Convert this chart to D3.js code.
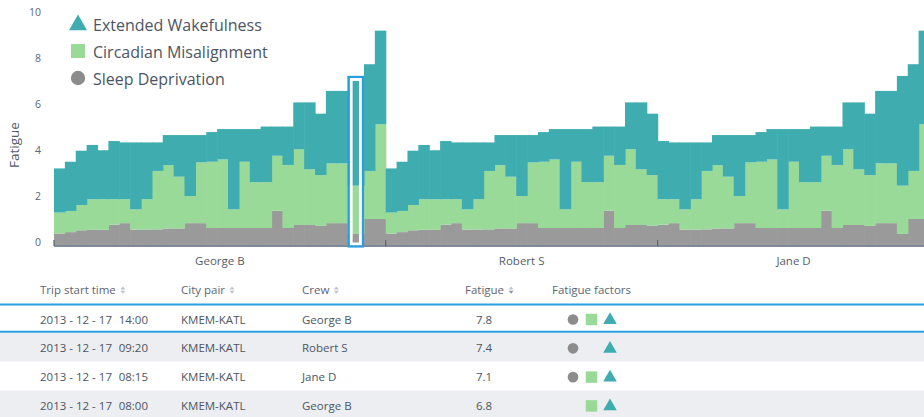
<!DOCTYPE html>
<html>
<head>
<meta charset="utf-8">
<script src="https://d3js.org/d3.v7.min.js"></script>
<style>
body{margin:0;background:#fff;font-family:'Open Sans',sans-serif;}
svg{display:block;}
</style>
</head>
<body>
<div id="plot"></div>
<script>
// chart data
var groups = ["George B","Robert S","Jane D"];
var factorKeys = ["sleep","circ","wake"];
var legendLabels = ["Extended Wakefulness","Circadian Misalignment","Sleep Deprivation"];
var yTicks = [0,2,4,6,8,10];

var georgeSleep = [0.50,0.56,0.64,0.66,0.66,0.88,0.95,0.67,0.67,0.68,0.72,0.72,0.95,0.95,0.74,0.74,0.74,0.74,0.74,0.74,1.49,0.74,0.87,0.87,0.83,0.95,0.95,0.48,1.13,1.13];
var georgeCirc  = [0.91,0.92,1.10,1.33,1.33,1.11,1.04,0.88,1.32,2.54,2.75,2.25,1.18,2.64,2.88,2.98,0.81,2.88,1.99,1.99,2.39,2.74,3.29,2.42,2.21,2.60,2.60,2.10,2.09,4.12];
var georgeWake  = [1.92,2.14,2.36,2.36,2.13,2.53,2.47,2.91,2.47,1.24,1.31,1.81,2.65,1.19,1.29,1.32,3.49,1.42,2.31,2.42,1.27,1.67,2.04,2.91,2.67,3.15,3.15,4.77,4.64,4.07];

var robertSleep = [0.50,0.56,0.64,0.66,0.66,0.88,0.95,0.67,0.67,0.68,0.72,0.72,0.95,0.95,0.74,0.74,0.74,0.74,0.74,0.74,1.49,0.74,0.87,0.87,0.83];
var robertCirc  = [0.91,0.92,1.10,1.33,1.33,1.11,1.04,0.88,1.32,2.54,2.75,2.25,1.18,2.64,2.88,2.98,0.81,2.88,1.99,1.99,2.39,2.74,3.29,2.42,2.21];
var robertWake  = [1.92,2.14,2.36,2.36,2.13,2.53,2.47,2.91,2.47,1.24,1.31,1.81,2.65,1.19,1.29,1.32,3.49,1.42,2.31,2.42,1.27,1.67,2.04,2.91,2.67];

var janeSleep = [0.88,0.95,0.67,0.67,0.68,0.72,0.72,0.95,0.95,0.74,0.74,0.74,0.74,0.74,0.74,1.49,0.74,0.87,0.87,0.83,0.95,0.95,0.48,1.13,1.13];
var janeCirc  = [1.11,1.04,0.88,1.32,2.54,2.75,2.25,1.18,2.64,2.88,2.98,0.81,2.88,1.99,1.99,2.39,2.74,3.29,2.42,2.21,2.60,2.60,2.10,2.09,4.12];
var janeWake  = [2.53,2.47,2.91,2.47,1.24,1.31,1.81,2.65,1.19,1.29,1.32,3.49,1.42,2.31,2.42,1.27,1.67,2.04,2.91,2.67,3.15,3.15,4.77,4.64,4.07];

var highlightGroup = 0, highlightIndex = 27;

// table data
var tableHeaders = ["Trip start time","City pair","Crew","Fatigue","Fatigue factors"];
var tripDates = ["2013 - 12 - 17","2013 - 12 - 17","2013 - 12 - 17","2013 - 12 - 17"];
var tripTimes = ["14:00","09:20","08:15","08:00"];
var tripPairs = ["KMEM-KATL","KMEM-KATL","KMEM-KATL","KMEM-KATL"];
var tripCrew = ["George B","Robert S","Jane D","George B"];
var tripFatigue = ["7.8","7.4","7.1","6.8"];
var tripFactors = [[1,1,1],[1,0,1],[1,1,1],[0,1,1]]; // sleep, circ, wake

var colors = {sleep:"#9a9a9a", circ:"#99da98", wake:"#3fadb0"};
var blue = "#2a9fe0";
var textCol = "#4d5563";

var W = 924, H = 417;
var svg = d3.select('#plot').append('svg').attr('width',W).attr('height',H);

// flatten bars; the highlighted bar takes one and a half slots
var perGroup = [[georgeSleep,georgeCirc,georgeWake],[robertSleep,robertCirc,robertWake],[janeSleep,janeCirc,janeWake]];
var bars = [], slot = 0, groupSlots = [];
perGroup.forEach(function(g,gi){
	var start = slot;
	g[0].forEach(function(v,i){
		var hl = (gi==highlightGroup && i==highlightIndex);
		var span = hl ? 1.5 : 1;
		bars.push({group:gi, idx:i, hl:hl, s0:slot, s1:slot+span, sleep:g[0][i], circ:g[1][i], wake:g[2][i]});
		slot += span;
	});
	groupSlots.push([start,slot]);
});

var x = d3.scaleLinear().domain([0,slot]).range([54,929.5]);
var y = d3.scaleLinear().domain([0,10]).range([245,15]);

var stacked = d3.stack().keys(factorKeys)(bars);

var chart = svg.append('g');
chart.selectAll('g.layer')
	.data(stacked)
	.enter().append('g')
	.attr('class','layer')
	.attr('fill',function(d){return colors[d.key];})
	.selectAll('rect')
	.data(function(d){return d;})
	.enter().append('rect')
	.attr('x',function(d){return x(d.data.s0);})
	.attr('width',function(d){return x(d.data.s1)-x(d.data.s0)+0.6;})
	.attr('y',function(d){return y(d[1]);})
	.attr('height',function(d){return y(d[0])-y(d[1]);});

// x baseline, group ticks and labels
svg.append('line')
	.attr('x1',54).attr('x2',W).attr('y1',246).attr('y2',246)
	.attr('stroke','#7f8a99').attr('stroke-width',2);
groups.forEach(function(g,gi){
	var x0 = x(groupSlots[gi][0]), x1 = x(groupSlots[gi][1]);
	svg.append('line').attr('x1',x0).attr('x2',x0).attr('y1',240).attr('y2',246)
		.attr('stroke','#5d6674').attr('stroke-width',1.2);
	svg.append('text').attr('x',(x0+x1)/2).attr('y',265)
		.attr('text-anchor','middle').attr('font-size',11.5).attr('fill','#555d6a').text(g);
});

// highlighted bar: white inset and blue frame
var hb = bars.filter(function(d){return d.hl;})[0];
var hx0 = x(hb.s0), hx1 = x(hb.s1), htop = y(hb.sleep+hb.circ+hb.wake), hbot = 247.5;
svg.append('rect')
	.attr('x',hx0+3.5).attr('y',htop+3.5)
	.attr('width',hx1-hx0-7).attr('height',hbot-htop-7)
	.attr('fill','none').attr('stroke','#fff').attr('stroke-width',3);
svg.append('rect')
	.attr('x',hx0+1).attr('y',htop+1)
	.attr('width',hx1-hx0-2).attr('height',hbot-htop-2)
	.attr('fill','none').attr('stroke',blue).attr('stroke-width',2.2);

// y axis labels
var yAxis = svg.append('g').attr('transform','translate(41,0)')
	.call(d3.axisLeft(y).tickValues(yTicks).tickSize(0).tickPadding(0));
yAxis.select('.domain').remove();
yAxis.selectAll('text').attr('y',-2.5).attr('font-size',10.5)
	.attr('font-family','Open Sans, sans-serif').attr('fill','#5d6674');

svg.append('text')
	.attr('transform','translate(19,145) rotate(-90)')
	.attr('text-anchor','middle').attr('font-size',13.5).attr('fill','#555d6a')
	.text('Fatigue');

// legend
var legendShapes = [d3.symbolTriangle, d3.symbolSquare, d3.symbolCircle];
var legendColors = [colors.wake, colors.circ, "#8c8c8c"];
var legendSizes = [140, 196, 160];
legendLabels.forEach(function(l,i){
	var cy = 24 + i*27;
	svg.append('path')
		.attr('d',d3.symbol().type(legendShapes[i]).size(legendSizes[i])())
		.attr('transform','translate(78,'+(i==0?cy+1:cy)+')')
		.attr('fill',legendColors[i]);
	svg.append('text').attr('x',93).attr('y',cy+6.5)
		.attr('font-size',16).attr('fill',textCol).text(l);
});

// table
var rowTop = 305, rowH = 28.8;
for(var r=0;r<tripDates.length;r++){
	if(r%2==1){
		svg.append('rect').attr('x',0).attr('y',rowTop+r*rowH-1).attr('width',W).attr('height',rowH)
			.attr('fill','#eceef1');
	}
}
[rowTop-0.5, rowTop+rowH-2].forEach(function(ly){
	svg.append('line').attr('x1',0).attr('x2',W).attr('y1',ly).attr('y2',ly)
		.attr('stroke',blue).attr('stroke-width',2);
});

var headerX = [40,181,302,465,552];
tableHeaders.forEach(function(h,i){
	var t = svg.append('text').attr('x',headerX[i]).attr('y',294)
		.attr('font-size',11.5).attr('fill','#5d6674').text(h);
	if(i<4){
		var ex = headerX[i] + t.node().getComputedTextLength() + 7;
		svg.append('path').attr('d','M'+(ex-2.5)+',289.5 L'+(ex+2.5)+',289.5 L'+ex+',286.5 Z')
			.attr('fill','#bcc2ca');
		svg.append('path').attr('d','M'+(ex-2.5)+',290.8 L'+(ex+2.5)+',290.8 L'+ex+',293.8 Z')
			.attr('fill',i==3?'#8d96a3':'#bcc2ca');
	}
});

var factorX = [573,591.5,610];
var factorShapes = [d3.symbolCircle, d3.symbolSquare, d3.symbolTriangle];
var factorColors = ["#8c8c8c", colors.circ, colors.wake];
var factorSizes = [90, 132, 80];
tripDates.forEach(function(d,r){
	var cy = rowTop + r*rowH + 14.5;
	var ty = cy + 4;
	svg.append('text').attr('x',40).attr('y',ty).attr('font-size',11.5).attr('fill',textCol).text(d);
	svg.append('text').attr('x',148).attr('y',ty).attr('text-anchor','end').attr('font-size',11.5).attr('fill',textCol).text(tripTimes[r]);
	svg.append('text').attr('x',181).attr('y',ty).attr('font-size',11.5).attr('fill',textCol).text(tripPairs[r]);
	svg.append('text').attr('x',302).attr('y',ty).attr('font-size',11.5).attr('fill',textCol).text(tripCrew[r]);
	svg.append('text').attr('x',476).attr('y',ty).attr('font-size',11.5).attr('fill',textCol).text(tripFatigue[r]);
	tripFactors[r].forEach(function(on,k){
		if(!on) return;
		svg.append('path')
			.attr('d',d3.symbol().type(factorShapes[k]).size(factorSizes[k])())
			.attr('transform','translate('+factorX[k]+','+(k==2?cy+0.5:cy)+')')
			.attr('fill',factorColors[k]);
	});
});
</script>
</body>
</html>
